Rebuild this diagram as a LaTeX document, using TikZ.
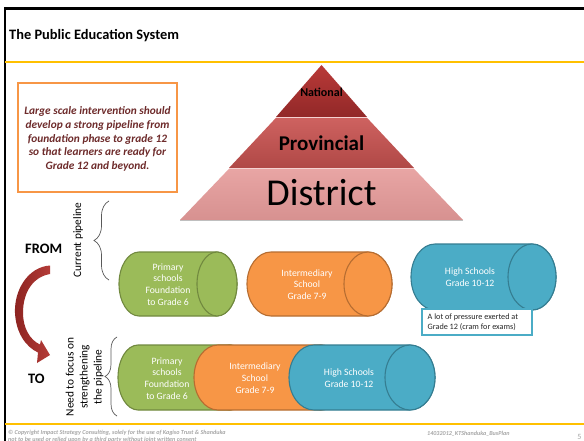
\documentclass[tikz,border=0pt]{standalone}
\usepackage{fontspec}
\setmainfont{Carlito}
\usetikzlibrary{decorations.pathreplacing}
\definecolor{hdryellow}{HTML}{FFC000}
\definecolor{grnfill}{HTML}{9BBB59}
\definecolor{grndraw}{HTML}{71893F}
\definecolor{orgfill}{HTML}{F79646}
\definecolor{orgdraw}{HTML}{B66D31}
\definecolor{blufill}{HTML}{4BACC6}
\definecolor{bludraw}{HTML}{357D91}
\definecolor{maroontext}{HTML}{6E2B2B}
\definecolor{footgrey}{HTML}{A6A6A6}
\definecolor{natTop}{RGB}{185,58,56}
\definecolor{natBot}{RGB}{146,40,40}
\definecolor{provTop}{RGB}{206,98,96}
\definecolor{provBot}{RGB}{176,72,70}
\definecolor{distTop}{RGB}{232,165,164}
\definecolor{distBot}{RGB}{215,145,144}
\definecolor{arrowDark}{RGB}{140,35,32}
\definecolor{arrowLight}{RGB}{180,60,56}
\definecolor{layerLine}{RGB}{245,210,210}
\newcommand\mycyl[7]{%
  \pgfmathsetmacro\cylry{(#4-#2)/2}%
  \path[fill=#6, draw=#7, line width=1.1pt]
    (#1+#5,#2) arc[start angle=270,end angle=90,x radius=#5,y radius=\cylry]
    -- (#3-#5,#4) arc[start angle=90,end angle=-90,x radius=#5,y radius=\cylry] -- cycle;
  \path[fill=#6, draw=#7, line width=1.1pt]
    (#3-#5,{(#2+#4)/2}) ellipse[x radius=#5, y radius=\cylry];
}
\tikzset{
  cyltext/.style={text=white, font=\fontsize{9.7}{11.7}\selectfont, align=center, inner sep=0pt},
  plain/.style={inner sep=0pt},
  bracestyle/.style={decorate, draw=black!65, line width=0.7pt},
  foot/.style={inner sep=0pt, text=footgrey, font=\fontsize{6.1}{7.3}\selectfont\bfseries\itshape},
}
\begin{document}
\begin{tikzpicture}[x=1pt,y=-1pt]
\useasboundingbox (0,0) rectangle (584,441);
\fill[white] (0,0) rectangle (584,441);
% frame
\draw[black, line width=2.5pt] (5,441) -- (5,8.5) -- (584,8.5);
\draw[hdryellow, line width=2pt] (5,62) -- (584,62);
\draw[hdryellow, line width=1.5pt] (5,424) -- (584,424);
\node[plain, anchor=base west, font=\fontsize{14.4}{17}\selectfont\bfseries] (title) at (9,39.5) {The Public Education System};
% intervention box
\draw[orgfill, line width=1.2pt, fill=white] (18,83) rectangle (177,192);
\node[plain, text=maroontext, align=center, font=\fontsize{11.35}{13.6}\selectfont\bfseries\itshape] (interv) at (97.5,139)
  {Large scale intervention should\\develop a strong pipeline from\\foundation phase to grade 12\\so that learners are ready for\\Grade 12 and beyond.};
% pyramid
\shade[top color=natTop, bottom color=natBot]
  (321.5,65) -- (367,117) -- (276,117) -- cycle;
\shade[top color=provTop, bottom color=provBot]
  (367,117.8) -- (414,168) -- (229,168) -- (276,117.8) -- cycle;
\shade[top color=distTop, bottom color=distBot]
  (414,168.8) -- (463,220) -- (180,220) -- (229,168.8) -- cycle;
\draw[layerLine, line width=0.8pt] (276,117.4) -- (367,117.4);
\draw[layerLine, line width=0.8pt] (229,168.4) -- (414,168.4);
\draw[black!25, line width=1pt] (180,220.5) -- (463,220.5);
\node[plain, font=\fontsize{12}{14}\selectfont\bfseries] (natl) at (321.5,92) {National};
\node[plain, font=\fontsize{21}{24}\selectfont\bfseries] (prov) at (321.5,143) {Provincial};
\node[plain, font=\fontsize{38}{42}\selectfont] (dist) at (321.5,193) {District};
% left labels
\node[plain, rotate=90, font=\fontsize{11.35}{13.6}\selectfont] (cur) at (78,240) {Current pipeline};
\coordinate (b1s) at (109,280);
\coordinate (b1e) at (109,201);
\draw[bracestyle, decoration={brace, amplitude=15pt}] (b1s) -- (b1e);
\node[plain, anchor=base west, font=\fontsize{14.4}{17}\selectfont\bfseries] (from) at (25,253) {FROM};
\node[plain, anchor=base west, font=\fontsize{14.4}{17}\selectfont\bfseries] (to) at (28,383) {TO};
\node[plain, rotate=90, align=center, font=\fontsize{11.35}{14}\selectfont] (need) at (84.5,377) {Need to focus on\\strengthening\\the pipeline};
\coordinate (b2s) at (117,416);
\coordinate (b2e) at (117,337);
\draw[bracestyle, decoration={brace, amplitude=12pt}] (b2s) -- (b2e);
% curved arrow
\shade[left color=arrowDark, right color=arrowLight]
  (50,265.5) .. controls (28,267) and (14,290) .. (15,313)
  .. controls (16,333) and (26,347) .. (38,352.5)
  -- (37,363) -- (50,355) -- (41,340) -- (40,344.5)
  .. controls (30,340) and (23,328) .. (23,313)
  .. controls (23,292) and (33,277) .. (50,274) -- cycle;
% top row cylinders
\mycyl{119}{252}{237}{316}{20}{grnfill}{grndraw}
\mycyl{247}{252}{392}{316}{24}{orgfill}{orgdraw}
\mycyl{411}{244}{556}{310}{24}{blufill}{bludraw}
\node[cyltext] (g1) at (168,284.5) {Primary\\schools\\Foundation\\to Grade 6};
\node[cyltext] (o1) at (307,284.5) {Intermediary\\School\\Grade 7-9};
\node[cyltext] (h1) at (470,277.5) {High Schools\\Grade 10-12};
% pressure box
\draw[blufill, line width=1.4pt, fill=white] (422,309) rectangle (532,335);
\node[plain, anchor=west, align=left, text=black!85, font=\fontsize{8.2}{10}\selectfont] (press) at (427.5,322.5) {A lot of pressure exerted at\\Grade 12 (cram for exams)};
% bottom row cylinders
\mycyl{118}{345}{250}{410}{20}{grnfill}{grndraw}
\mycyl{194}{345}{345}{410}{24}{orgfill}{orgdraw}
\mycyl{289}{345}{435}{410}{25}{blufill}{bludraw}
\node[cyltext] (g2) at (167,378.5) {Primary\\schools\\Foundation\\to Grade 6};
\node[cyltext] (o2) at (255,378) {Intermediary\\School\\Grade 7-9};
\node[cyltext] (h2) at (349,378.5) {High Schools\\Grade 10-12};
% footer
\node[foot, anchor=base west] (copy1) at (8,434.2) {© Copyright Impact Strategy Consulting, solely for the use of Kagiso Trust \& Shanduka};
\node[foot, anchor=base west] (copy2) at (8,441.3) {not to be used or relied upon by a third party without joint written consent};
\node[foot, anchor=base west] (doc) at (427,435) {14032012\_KTShanduka\_BusPlan};
\node[plain, anchor=base, text=footgrey, font=\fontsize{8}{9}\selectfont] (page) at (579.5,439) {5};
\end{tikzpicture}
\end{document}
